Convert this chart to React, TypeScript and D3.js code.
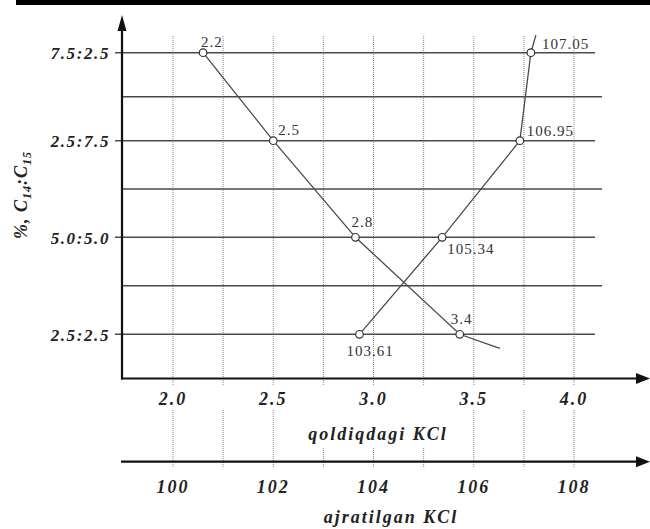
import React from "react";
import * as d3 from "d3";

const W = 650;
const H = 529;

// y levels, bottom to top; only even levels carry a label
const levelLabels = ["2.5:2.5", "", "5.0:5.0", "", "2.5:7.5", "", "7.5:2.5"];

// vertical grid ticks (qoldiqdagi KCl scale)
const gridTicks = [2, 2.25, 2.5, 2.75, 3, 3.25, 3.5, 3.75, 4];
const topTickValues = [2, 2.5, 3, 3.5, 4];
const topTickLabels = ["2.0", "2.5", "3.0", "3.5", "4.0"];
const bottomTickValues = [100, 102, 104, 106, 108];
const bottomTickLabels = ["100", "102", "104", "106", "108"];

// series 1: residue KCl (read on the upper axis)
const residueX = [2.15, 2.5, 2.91, 3.43, 3.63];
const residueLevel = [6, 4, 2, 0, -0.29];
const residueLabels = ["2.2", "2.5", "2.8", "3.4", ""];

// series 2: separated KCl (read on the lower axis)
const separatedX = [103.72, 105.37, 106.92, 107.14, 107.24];
const separatedLevel = [0, 2, 4, 6, 6.4];
const separatedLabels = ["103.61", "105.34", "106.95", "107.05", ""];

// label offsets from their point (dx, dy)
const residueOffsets = [[-2, -6], [5, -6], [-4, -10], [-9, -10]];
const separatedOffsets = [[-13, 22], [5, 17], [7, -5], [11, -4]];

const xTop = d3.scaleLinear().domain([2, 4]).range([173, 574]);
const xBot = d3.scaleLinear().domain([100, 108]).range([173, 574]);
const y = d3.scaleLinear().domain([0, 2, 4, 6]).range([334.3, 237.3, 140.7, 52.7]);

const axisX = 122;
const axis1Y = 378.5;
const axis2Y = 461.7;

const serif = "Liberation Serif, Times New Roman, Times, serif";
const lineColor = "#4a4a4a";

const boldIt = {
  fontFamily: serif,
  fontWeight: "bold" as const,
  fontStyle: "italic" as const,
};

const App = () => {
  const line = d3.line<[number, number]>().x((d) => d[0]).y((d) => d[1]);
  const resPts: [number, number][] = residueX.map((v, i) => [xTop(v), y(residueLevel[i])]);
  const sepPts: [number, number][] = separatedX.map((v, i) => [xBot(v), y(separatedLevel[i])]);

  const arrowRight = (yy: number) =>
    `M${W},${yy} L${W - 14},${yy - 5.5} L${W - 14},${yy + 5.5} Z`;

  return (
    <svg
      width={W}
      height={H}
      style={{ position: "absolute", left: 0, top: 0, background: "#fff" }}
    >
      <rect x={16} y={0} width={W - 16} height={5} fill="#000" />

      {/* vertical dotted grid */}
      {gridTicks.map((t, i) => (
        <g key={i} stroke="#888" strokeWidth={1} strokeDasharray="1,1">
          <line x1={xTop(t)} x2={xTop(t)} y1={36} y2={386} />
          <line
            x1={xTop(t)}
            x2={xTop(t)}
            y1={t >= 2.75 && t <= 3.25 ? 448 : 410}
            y2={468}
          />
        </g>
      ))}

      {/* horizontal grid */}
      {levelLabels.map((lab, i) => (
        <line
          key={i}
          x1={lab ? axisX - 7 : axisX}
          x2={lab ? 595 : 602}
          y1={y(i)}
          y2={y(i)}
          stroke={lineColor}
          strokeWidth={1.6}
        />
      ))}

      {/* y tick labels */}
      {levelLabels.map((lab, i) =>
        lab ? (
          <text
            key={i}
            x={110}
            y={y(i) + 6.5}
            textAnchor="end"
            style={{ ...boldIt, fontSize: 17, letterSpacing: 1.6 }}
            fill="#222"
          >
            {lab}
          </text>
        ) : null
      )}

      {/* y title */}
      <text
        transform={`translate(27,195) rotate(-90)`}
        textAnchor="middle"
        style={{ ...boldIt, fontSize: 18, letterSpacing: 1 }}
        fill="#222"
      >
        <tspan>%, C</tspan>
        <tspan dy={4} style={{ fontSize: 12 }}>14</tspan>
        <tspan dy={-4}>:C</tspan>
        <tspan dy={4} style={{ fontSize: 12 }}>15</tspan>
      </text>

      {/* axes */}
      <line x1={axisX} x2={axisX} y1={28} y2={axis1Y + 1} stroke="#111" strokeWidth={2.2} />
      <path d={`M${axisX},15 L${axisX - 4.5},31 L${axisX + 4.5},31 Z`} fill="#111" />
      <line x1={axisX - 1} x2={W - 12} y1={axis1Y} y2={axis1Y} stroke="#111" strokeWidth={2.2} />
      <path d={arrowRight(axis1Y)} fill="#111" />
      <line x1={axisX - 1} x2={W - 12} y1={axis2Y} y2={axis2Y} stroke="#111" strokeWidth={2.2} />
      <path d={arrowRight(axis2Y)} fill="#111" />

      {/* x tick labels */}
      {topTickValues.map((v, i) => (
        <text
          key={i}
          x={xTop(v)}
          y={405}
          textAnchor="middle"
          style={{ ...boldIt, fontSize: 18, letterSpacing: 2 }}
          fill="#222"
        >
          {topTickLabels[i]}
        </text>
      ))}
      <text
        x={378}
        y={440}
        textAnchor="middle"
        style={{ ...boldIt, fontSize: 18, letterSpacing: 2 }}
        fill="#222"
      >
        qoldiqdagi KCl
      </text>
      {bottomTickValues.map((v, i) => (
        <text
          key={i}
          x={xBot(v)}
          y={493}
          textAnchor="middle"
          style={{ ...boldIt, fontSize: 18, letterSpacing: 2 }}
          fill="#222"
        >
          {bottomTickLabels[i]}
        </text>
      ))}
      <text
        x={391}
        y={523}
        textAnchor="middle"
        style={{ ...boldIt, fontSize: 18, letterSpacing: 2 }}
        fill="#222"
      >
        ajratilgan KCl
      </text>

      {/* series lines */}
      <path d={line(resPts) || ""} fill="none" stroke={lineColor} strokeWidth={1.3} />
      <path d={line(sepPts) || ""} fill="none" stroke={lineColor} strokeWidth={1.3} />

      {/* points and labels */}
      {resPts.map((p, i) =>
        residueLabels[i] ? (
          <g key={"r" + i}>
            <circle cx={p[0]} cy={p[1]} r={3.8} fill="#fff" stroke="#333" strokeWidth={1.2} />
            <text
              x={p[0] + residueOffsets[i][0]}
              y={p[1] + residueOffsets[i][1]}
              style={{ fontFamily: serif, fontSize: 15, letterSpacing: 1 }}
              fill="#333"
            >
              {residueLabels[i]}
            </text>
          </g>
        ) : null
      )}
      {sepPts.map((p, i) =>
        separatedLabels[i] ? (
          <g key={"s" + i}>
            <circle cx={p[0]} cy={p[1]} r={3.8} fill="#fff" stroke="#333" strokeWidth={1.2} />
            <text
              x={p[0] + separatedOffsets[i][0]}
              y={p[1] + separatedOffsets[i][1]}
              style={{ fontFamily: serif, fontSize: 15, letterSpacing: 1 }}
              fill="#333"
            >
              {separatedLabels[i]}
            </text>
          </g>
        ) : null
      )}
    </svg>
  );
};

export default App;
